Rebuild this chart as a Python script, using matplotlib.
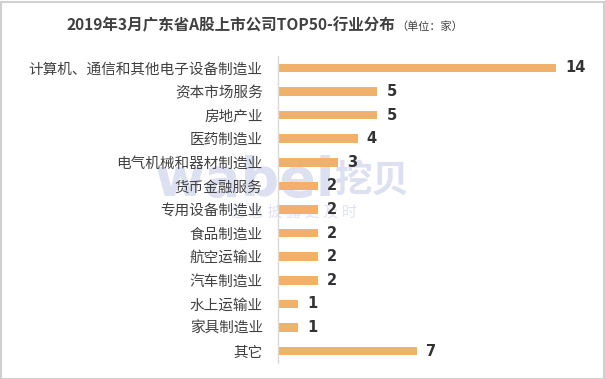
import matplotlib

matplotlib.use("Agg")
import matplotlib.pyplot as plt  # noqa: E402

plt.rcParams["font.family"] = ["Noto Sans CJK SC", "DejaVu Sans"]

categories = [
    "计算机、通信和其他电子设备制造业", "资本市场服务", "房地产业", "医药制造业",
    "电气机械和器材制造业", "货币金融服务", "专用设备制造业", "食品制造业",
    "航空运输业", "汽车制造业", "水上运输业", "家具制造业", "其它",
]
counts = [14, 5, 5, 4, 3, 2, 2, 2, 2, 2, 1, 1, 7]

W, H = 605, 379
fig = plt.figure(figsize=(W / 100, H / 100), dpi=100)
fig.patch.set_facecolor("white")

# light frame round the whole picture
fig.add_artist(plt.Rectangle((0.5 / W, 0.5 / H), 1 - 2 / W, 1 - 2 / H, transform=fig.transFigure,
                             fill=False, ec="#d0d0d0", lw=1.5))

# watermark, kept under the chart
wm = "#dde0f0"
fig.text(334 / W, 1 - 181 / H, "wabei", fontsize=39, fontweight="bold", color=wm,
         ha="right", va="center", family="DejaVu Sans", zorder=0)
fig.text(335 / W, 1 - 180 / H, "挖贝", fontsize=27, fontweight="bold", color=wm,
         ha="left", va="center", zorder=0)
fig.text(293 / W, 1 - 212 / H, "信 息 披 露 更 及 时", fontsize=11, color="#e2e4f2",
         ha="center", va="center", zorder=0)

left, right = 278, 596
top, bottom = 56, 363
ax = fig.add_axes([left / W, 1 - bottom / H, (right - left) / W, (bottom - top) / H])
ax.set_zorder(5)
ax.patch.set_alpha(0)

y = list(range(len(categories)))
ax.barh(y, counts, height=0.36, color="#f0b26b", zorder=2)
for yi, v in zip(y, counts):
    ax.text(v + 0.45, yi, str(v), va="center", ha="left", fontsize=10.5,
            fontweight="bold", color="#333333", family="DejaVu Sans")

ax.set_ylim(len(categories) - 0.5, -0.5)
ax.set_xlim(0, 16)
ax.set_yticks(y)
ax.set_yticklabels(categories, fontsize=10.5, color="#404040")
ax.tick_params(axis="y", length=0, pad=11)
ax.set_xticks([])
for s in ["top", "right", "bottom"]:
    ax.spines[s].set_visible(False)
ax.spines["left"].set_color("#d9d9d9")
ax.spines["left"].set_linewidth(1)

fig.text(395 / W, 1 - 25 / H, "2019年3月广东省A股上市公司TOP50-行业分布", fontsize=11.2,
         fontweight="bold", color="#404040", ha="right", va="center")
fig.text(396 / W, 1 - 27 / H, "（单位：家）", fontsize=8, color="#404040",
         ha="left", va="center")

fig.savefig("out.png", dpi=100)
